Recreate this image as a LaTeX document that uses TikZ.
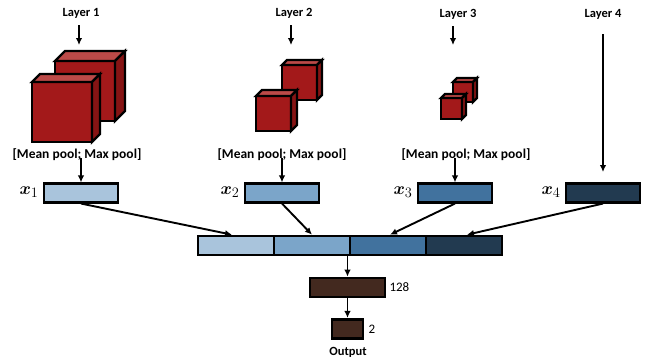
\documentclass[tikz,border=0pt]{standalone}
\usepackage{fontspec}
\setmainfont{Carlito}
\usepackage{bm}
\usetikzlibrary{arrows.meta}

\definecolor{vecA}{HTML}{A9C4DC}
\definecolor{vecB}{HTML}{7BA5C9}
\definecolor{vecC}{HTML}{41729E}
\definecolor{vecD}{HTML}{223A50}
\definecolor{dense}{HTML}{43291F}
\definecolor{cubeFront}{HTML}{A3191A}
\definecolor{cubeTop}{HTML}{BC4A48}
\definecolor{cubeSide}{HTML}{861414}

% feature-map cube: #1,#2 top-left corner of the front face, #3 edge, #4 depth
\newcommand{\featcube}[4]{%
  \filldraw[cubeline, fill=cubeFront] (#1,#2) rectangle ++(#3,#3);
  \filldraw[cubeline, fill=cubeTop] (#1,#2) -- ++(#4,-#4) -- ++(#3,0) -- ++(-#4,#4) -- cycle;
  \filldraw[cubeline, fill=cubeSide] (#1+#3,#2) -- ++(#4,-#4) -- ++(0,#3) -- ++(-#4,#4) -- cycle;
}

\tikzset{
  cubeline/.style={draw=black, line width=2.4pt, line join=miter},
  arr/.style={line width=1.9pt, -{Latex[length=7pt,width=6.5pt]}},
  vecbox/.style={draw=black, line width=2.6pt, minimum width=74pt, minimum height=18.5pt, inner sep=0pt},
  title/.style={font=\bfseries\fontsize{12.5}{14}\selectfont, inner sep=1pt},
  pool/.style={font=\bfseries\fontsize{13.5}{15}\selectfont, inner sep=1pt},
  vlabel/.style={font=\fontsize{19}{21}\selectfont, inner sep=0pt, anchor=east},
  num/.style={font=\fontsize{13}{15}\selectfont, inner sep=0pt, anchor=west},
}

\begin{document}
\begin{tikzpicture}[x=1pt, y=-1pt]
\useasboundingbox (0,0) rectangle (651,360);

% layer titles
\node[title] (L1) at (81,13) {Layer 1};
\node[title] (L2) at (294,13) {Layer 2};
\node[title] (L3) at (458,14) {Layer 3};
\node[title] (L4) at (603,14) {Layer 4};

\coordinate (a1) at (79,45);
\coordinate (a2) at (291,45);
\coordinate (a3) at (453,45);
\coordinate (a4) at (603,172);

\draw[arr] (L1.south -| a1) ++(0,6) -- (a1);
\draw[arr] (L2.south -| a2) ++(0,6) -- (a2);
\draw[arr] (L3.south -| a3) ++(0,6) -- (a3);
\draw[arr] (L4.south -| a4) ++(0,14) -- (a4);

% feature maps
\featcube{55}{61}{60}{10}
\featcube{32}{82}{60}{8}
\featcube{282}{65}{35}{5}
\featcube{256}{96}{35}{6}
\featcube{453}{82}{20}{4}
\featcube{441}{98}{21}{4}

% pooling labels
\node[pool] (P1) at (77,155) {[Mean pool; Max pool]};
\node[pool] (P2) at (282,155) {[Mean pool; Max pool]};
\node[pool] (P3) at (466,155) {[Mean pool; Max pool]};

% pooled vectors
\node[vecbox, fill=vecA] (x1) at (81,193) {};
\node[vecbox, fill=vecB] (x2) at (282,193) {};
\node[vecbox, fill=vecC] (x3) at (455,193) {};
\node[vecbox, fill=vecD] (x4) at (603,193) {};

\node[vlabel] at ([xshift=-4pt,yshift=1pt]x1.west) {$\bm{x}_1$};
\node[vlabel] at ([xshift=-4pt,yshift=1pt]x2.west) {$\bm{x}_2$};
\node[vlabel] at ([xshift=-4pt,yshift=1pt]x3.west) {$\bm{x}_3$};
\node[vlabel] at ([xshift=-4pt,yshift=1pt]x4.west) {$\bm{x}_4$};

\draw[arr] ([yshift=4pt]P1.south -| x1.north) -- (x1.north);
\draw[arr] ([yshift=4pt]P2.south -| x2.north) -- (x2.north);
\draw[arr] ([yshift=4pt]P3.south -| x3.north) -- (x3.north);

% concatenated vector
\node[vecbox, minimum width=76pt, minimum height=19pt, fill=vecA] (c1) at (236,245.5) {};
\node[vecbox, minimum width=76pt, minimum height=19pt, fill=vecB] (c2) at (312,245.5) {};
\node[vecbox, minimum width=76pt, minimum height=19pt, fill=vecC] (c3) at (388,245.5) {};
\node[vecbox, minimum width=76pt, minimum height=19pt, fill=vecD] (c4) at (464,245.5) {};

\draw[arr] (x1.south) -- ([xshift=-4pt]c1.north);
\draw[arr] (x2.south) -- (c2.north);
\draw[arr] (x3.south) -- ([xshift=2pt]c3.north);
\draw[arr] (x4.south) -- ([xshift=3pt]c4.north);

% dense layers
\node[vecbox, fill=dense, minimum width=75pt, minimum height=19pt] (h) at (347.5,287.5) {};
\node[vecbox, fill=dense, minimum width=31pt, minimum height=19.5pt] (o) at (347.5,329) {};
\node[num] at ([xshift=3pt]h.east) {128};
\node[num] at ([xshift=4pt]o.east) {2};
\node[title] (out) at (348,352) {Output};

\draw[arr] (h.north |- c2.south) -- (h.north);
\draw[arr] (h.south) -- (o.north);
\end{tikzpicture}
\end{document}
